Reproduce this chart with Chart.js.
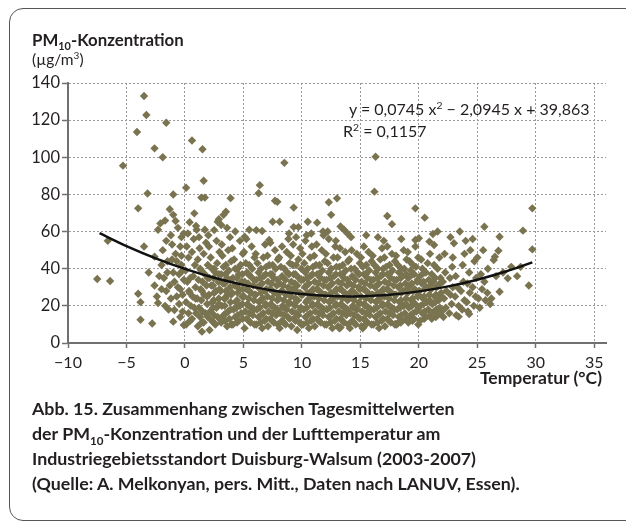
<!DOCTYPE html>
<html>
<head>
<meta charset="utf-8">
<script src="https://cdn.jsdelivr.net/npm/chart.js@4.4.1/dist/chart.umd.min.js"></script>
<style>
    body { margin: 0; width: 626px; height: 526px; overflow: hidden; background: #fff; font-family: Lato, "Open Sans", sans-serif; color: #231f20; }
    .frame { position: absolute; left: 9px; top: 8px; width: 650px; height: 513px; border: 1.5px solid #555; border-radius: 14px; box-sizing: border-box; }
    #chart { position: absolute; left: 0; top: 0; }
    .label { position: absolute; white-space: nowrap; }
    .ytitle { left: 32px; top: 29px; font-size: 16.8px; font-weight: bold; }
    .yunit { left: 32px; top: 50px; font-size: 15.5px; }
    .eq { left: 349px; top: 99px; font-size: 16px; }
    .r2 { left: 343px; top: 121px; font-size: 16px; }
    .xtitle { right: 24px; top: 367px; font-size: 17.5px; font-weight: bold; }
    .caption { left: 32px; top: 396px; font-size: 17.8px; font-weight: bold; line-height: 25px; }
    sub, sup { font-size: 65%; line-height: 0; }
</style>
</head>
<body>
<div class="frame"></div>
<canvas id="chart" width="626" height="526"></canvas>
<div class="label ytitle">PM<sub>10</sub>-Konzentration</div>
<div class="label yunit">(µg/m<sup>3</sup>)</div>
<div class="label eq">y = 0,0745 x<sup>2</sup> − 2,0945 x + 39,863</div>
<div class="label r2">R<sup>2</sup> = 0,1157</div>
<div class="label xtitle">Temperatur (°C)</div>
<div class="label caption">Abb. 15. Zusammenhang zwischen Tagesmittelwerten<br>der PM<sub>10</sub>-Konzentration und der Lufttemperatur am<br>Industriegebietsstandort Duisburg-Walsum (2003-2007)<br>(Quelle: A. Melkonyan, pers. Mitt., Daten nach LANUV, Essen).</div>

<script>
// axis ticks
const tempTicks = [-10, -5, 0, 5, 10, 15, 20, 25, 30, 35];
const pmTicks = [0, 20, 40, 60, 80, 100, 120, 140];

// daily means [temperature °C, PM10 µg/m³]
const frostDays = [
    [-7.5,34.5],[-6.4,33.4],[-6.6,55],[-5.3,95.5],[-4.1,113.6],[-3.5,133],[-3.3,122.8],[-2.6,104.8],[-1.9,100],[-1.6,118.6],
    [-4.0,72.5],[-3.2,80.5],[-3.5,52],[-4.0,26.5],[-3.8,22],[-3.8,12.5],[-2.8,10.5],[-3.1,38],[-2.6,46.5],[-2.6,31],
    [-2.3,21.5],[-2.3,61],[-2.1,64.4],[-1.7,65.9],[-1.3,72],[-1.0,69],[-0.8,65.7],[-1.0,80],[-0.3,57],[-0.1,59],
    [-2.0,42],[-1.8,35],[-1.5,44],[-1.6,28],[-1.4,18],[-1.2,24],[-1.0,38],[-0.9,17.8],[-0.8,48],[-0.6,30],
    [-0.5,21],[-0.4,52],[-0.3,42],[-0.2,26],[-0.2,16.9],[-0.1,34],[-1.9,50],[-1.1,53],[-1.0,11.5],[-0.1,9.7],
    [-2.4,25],[-1.7,20],[-0.7,44],[-1.3,31],[-0.5,37],[-2.2,36],[-1.2,58],[-0.6,62],[-1.6,55],[-0.3,47],
    [-0.4,14],[-0.7,25],[-1.1,45],[-0.2,39],[-1.5,38],[-0.9,33],[-0.4,29],[-2.0,29]
];
const coolDays = [
    [0.1,10],[0.3,16],[0.1,22],[0.35,28],[0.2,33],[0.05,39],[0.3,46],[0.15,52],[0.25,59],
    [0.6,13],[0.8,19],[0.65,25],[0.9,30],[0.7,36],[0.85,42],[0.6,49],[0.75,56],[0.95,63],
    [1.1,9],[1.3,14],[1.2,19],[1.05,24],[1.35,29],[1.15,34],[1.3,40],[1.1,45],[1.25,51],[1.2,57],
    [1.6,11],[1.75,16],[1.9,21],[1.65,26],[1.85,31],[1.7,37],[1.95,42],[1.6,48],[1.8,54],[1.7,61],
    [2.1,7],[2.3,12],[2.15,17],[2.35,22],[2.05,26],[2.25,31],[2.1,35],[2.3,40],[2.2,46],[2.05,52],
    [2.6,10],[2.8,14],[2.7,19],[2.9,24],[2.65,28],[2.85,33],[2.6,38],[2.75,43],[2.95,49],[2.7,55],
    [3.1,11],[3.3,15],[3.15,20],[3.35,24],[3.05,28],[3.25,32],[3.1,37],[3.3,41],[3.2,47],[3.15,53],
    [3.6,9],[3.8,13],[3.7,17],[3.9,22],[3.65,26],[3.85,30],[3.6,35],[3.75,39],[3.95,44],[3.7,50],[3.85,57],
    [4.1,10],[4.3,14],[4.15,18],[4.35,22],[4.05,27],[4.25,31],[4.1,35],[4.3,40],[4.2,45],[4.05,51],
    [4.6,12],[4.8,16],[4.7,20],[4.9,25],[4.65,29],[4.85,33],[4.6,37],[4.75,42],[4.95,48],[4.7,55],
    [0.1,83.6],[0.6,109],[1.5,104.3],[1.6,87.4],[1.4,78.3],[1.7,78.3],[0.8,69.8],[3.9,78],[3.5,70.7],[3.3,69],
    [2.9,66.6],[2.5,60.8],[2.8,65.3],[3.1,63.5],[1.45,6.1],[4.3,60],[2.0,58],[1.0,61],[0.4,65],[3.6,62]
];
const mildDays = [
    [5.1,8],[5.3,13],[5.15,17],[5.35,21],[5.05,25],[5.25,29],[5.1,33],[5.3,38],[5.2,43],[5.05,49],[5.25,56],
    [5.6,11],[5.8,15],[5.7,19],[5.9,23],[5.65,27],[5.85,31],[5.6,36],[5.75,40],[5.95,46],[5.7,52],
    [6.1,10],[6.3,14],[6.15,18],[6.35,22],[6.05,26],[6.25,30],[6.1,34],[6.3,38],[6.2,43],[6.05,48],
    [6.6,8],[6.8,12],[6.7,16],[6.9,20],[6.65,24],[6.85,28],[6.6,32],[6.75,36],[6.95,41],[6.7,46],[6.85,53],
    [7.1,9],[7.3,13],[7.15,17],[7.35,21],[7.05,25],[7.25,29],[7.1,33],[7.3,37],[7.2,42],[7.05,47],[7.3,54],
    [7.6,11],[7.8,15],[7.7,19],[7.9,23],[7.65,27],[7.85,31],[7.6,35],[7.75,40],[7.95,45],[7.7,50],
    [8.1,8],[8.3,12],[8.15,16],[8.35,20],[8.05,24],[8.25,28],[8.1,32],[8.3,36],[8.2,41],[8.05,46],[8.3,52],
    [8.6,10],[8.8,14],[8.7,18],[8.9,22],[8.65,26],[8.85,30],[8.6,34],[8.75,38],[8.95,43],[8.7,49],[8.85,56],
    [9.1,9],[9.3,13],[9.15,17],[9.35,21],[9.05,25],[9.25,29],[9.1,33],[9.3,37],[9.2,42],[9.05,47],[9.25,53],
    [9.6,7],[9.8,11],[9.7,15],[9.9,19],[9.65,23],[9.85,27],[9.6,31],[9.75,35],[9.95,40],[9.7,45],[9.85,51],
    [6.4,85],[6.3,80.6],[7.7,76.6],[7.9,76],[7.5,65.3],[8.1,65.3],[9.3,72.9],[9.3,62.4],[9.7,62.4],[8.5,97],
    [6.1,60.8],[6.6,60.3],[5.1,57.2],[7.2,55.5],[5.5,61],[8.9,59],[9.5,57]
];
const warmDays = [
    [10.1,10],[10.3,14],[10.15,18],[10.35,22],[10.05,26],[10.25,30],[10.1,34],[10.3,38],[10.2,43],[10.05,48],[10.3,55],
    [10.6,8],[10.8,12],[10.7,16],[10.9,20],[10.65,24],[10.85,28],[10.6,32],[10.75,36],[10.95,41],[10.7,46],[10.85,52],
    [11.1,9],[11.3,13],[11.15,17],[11.35,21],[11.05,25],[11.25,29],[11.1,33],[11.3,37],[11.2,42],[11.05,47],[11.25,53],
    [11.6,11],[11.8,15],[11.7,19],[11.9,23],[11.65,27],[11.85,31],[11.6,35],[11.75,39],[11.95,44],[11.7,50],[11.85,58],
    [12.1,10],[12.3,14],[12.15,18],[12.35,22],[12.05,26],[12.25,30],[12.1,34],[12.3,38],[12.2,43],[12.05,48],[12.3,56],
    [12.6,8],[12.8,12],[12.7,16],[12.9,20],[12.65,24],[12.85,28],[12.6,32],[12.75,36],[12.95,41],[12.7,46],[12.85,52],
    [13.1,9],[13.3,13],[13.15,17],[13.35,21],[13.05,25],[13.25,29],[13.1,33],[13.3,37],[13.2,41],[13.05,46],[13.25,51],
    [13.6,11],[13.8,15],[13.7,19],[13.9,23],[13.65,27],[13.85,31],[13.6,35],[13.75,39],[13.95,44],[13.7,49],
    [14.1,8],[14.3,12],[14.15,16],[14.35,20],[14.05,24],[14.25,28],[14.1,32],[14.3,36],[14.2,40],[14.05,45],[14.25,50],
    [14.6,10],[14.8,14],[14.7,18],[14.9,22],[14.65,26],[14.85,30],[14.6,34],[14.75,38],[14.95,43],[14.7,48],
    [12.3,75.8],[13.0,77.9],[12.5,69],[10.5,65.3],[11.3,64.8],[11.8,60],[12.2,60],[10.8,59],[13.3,62.7],[13.6,61],
    [13.9,59],[14.2,57],[13.2,7.9],[13.3,8.3],[10.4,58],[12.9,55]
];
const summerDays = [
    [15.1,9],[15.3,13],[15.15,17],[15.35,21],[15.05,25],[15.25,29],[15.1,33],[15.3,37],[15.2,41],[15.05,46],[15.3,52],
    [15.6,11],[15.8,15],[15.7,19],[15.9,23],[15.65,27],[15.85,31],[15.6,35],[15.75,39],[15.95,44],[15.7,49],
    [16.1,10],[16.3,14],[16.15,18],[16.35,22],[16.05,26],[16.25,30],[16.1,34],[16.3,38],[16.2,42],[16.05,47],
    [16.6,8],[16.8,12],[16.7,16],[16.9,20],[16.65,24],[16.85,28],[16.6,32],[16.75,36],[16.95,40],[16.7,45],[16.85,51],
    [17.1,9],[17.3,13],[17.15,17],[17.35,21],[17.05,25],[17.25,29],[17.1,33],[17.3,37],[17.2,41],[17.05,46],[17.3,52],
    [17.6,11],[17.8,15],[17.7,19],[17.9,23],[17.65,27],[17.85,31],[17.6,35],[17.75,39],[17.95,44],[17.7,48],
    [18.1,10],[18.3,14],[18.15,18],[18.35,22],[18.05,26],[18.25,30],[18.1,34],[18.3,38],[18.2,42],[18.05,47],
    [18.6,12],[18.8,16],[18.7,20],[18.9,24],[18.65,28],[18.85,32],[18.6,36],[18.75,40],[18.95,45],[18.7,50],
    [19.1,11],[19.3,15],[19.15,19],[19.35,23],[19.05,27],[19.25,31],[19.1,35],[19.3,39],[19.2,44],[19.05,49],
    [19.6,13],[19.8,17],[19.7,21],[19.9,25],[19.65,29],[19.85,33],[19.6,37],[19.75,41],[19.95,46],[19.7,52],
    [16.3,100.3],[16.2,81.5],[17.3,68.4],[17.7,64],[19.7,72.5],[15.2,7.9],[15.3,8.8],[18.2,10.6],[18.0,10.2],
    [19.7,55.5],[15.5,58],[16.5,57],[18.5,56],[17.0,55]
];
const hotDays = [
    [20.1,12],[20.3,16],[20.15,20],[20.35,24],[20.05,28],[20.25,32],[20.1,36],[20.3,40],[20.2,45],
    [20.6,14],[20.8,18],[20.7,22],[20.9,26],[20.65,30],[20.85,34],[20.6,38],[20.75,43],[20.95,48],
    [21.1,13],[21.3,17],[21.15,21],[21.35,25],[21.05,29],[21.25,33],[21.1,37],[21.3,42],
    [21.6,15],[21.8,19],[21.7,23],[21.9,27],[21.65,31],[21.85,35],[21.6,40],[21.75,46],
    [22.1,14],[22.3,19],[22.15,24],[22.35,28],[22.05,33],[22.25,38],
    [22.6,16],[22.8,21],[22.7,26],[22.9,30],[22.65,35],[22.85,41],
    [23.2,15],[23.4,20],[23.1,25],[23.3,30],[23.15,36],[23.7,18],[23.9,23],[23.6,28],[23.8,33],[23.75,42],
    [24.2,17],[24.1,22],[24.35,27],[24.15,32],[24.3,38],[24.7,20],[24.85,25],[24.6,30],[24.9,35],[24.75,44],
    [25.2,19],[25.1,24],[25.4,29],[25.3,37],[25.7,23],[25.85,27],[25.6,33],[25.9,40],
    [20.0,56.4],[20.5,67.5],[20.9,54.6],[21.2,58.7],[21.6,60],[21.3,52.8],[22.7,57],[23.5,60],[23.0,53.7],[24.0,55],
    [24.6,56],[25.6,62.6],[26.9,57.2],[28.9,60.5],[29.7,72.5],[29.7,50.4],[29.4,31],[26.8,49.7],[26.5,46.5],[26.4,44.7],
    [27.9,41],[27.6,34.8],[26.9,27.6],[26.2,24],[26.1,21],[28.4,36],[28.7,41],[24.3,15.6],[23.4,14.2],[22.2,48],
    [22.9,46],[23.9,48],[24.4,50],[25.0,46],[25.5,50],[27.2,38],[26.6,36]
];
// the packed middle of the cloud (about 10–42 µg/m³)
const coreDays = [
    [0.45,12],[0.5,20],[0.4,27],[0.45,35],[0.95,16],[0.9,24],
    [1.45,11],[1.5,17],[1.4,23],[1.45,28],[1.5,33],[1.4,39],[1.95,14],[1.9,25],[1.95,35],
    [2.45,11],[2.5,15],[2.4,19],[2.45,23],[2.5,27],[2.4,31],[2.45,35],[2.5,40],[2.95,13],[2.9,21],[2.95,29],[2.9,37],
    [3.45,12],[3.5,16],[3.4,20],[3.45,24],[3.5,28],[3.4,32],[3.45,37],[3.5,42],[3.95,10],[3.9,18],[3.95,26],[3.9,34],
    [4.45,11],[4.5,15],[4.4,19],[4.45,23],[4.5,27],[4.4,31],[4.45,35],[4.5,40],[4.95,13],[4.9,21],[4.95,29],[4.9,37],
    [5.45,12],[5.5,16],[5.4,20],[5.45,24],[5.5,28],[5.4,32],[5.45,37],[5.5,42],[5.95,10],[5.9,18],[5.95,26],[5.9,34],
    [6.45,11],[6.5,15],[6.4,19],[6.45,23],[6.5,27],[6.4,31],[6.45,35],[6.5,40],[6.95,13],[6.9,21],[6.95,29],[6.9,37],
    [7.45,12],[7.5,16],[7.4,20],[7.45,24],[7.5,28],[7.4,32],[7.45,37],[7.5,42],[7.95,10],[7.9,18],[7.95,26],[7.9,34],
    [8.45,11],[8.5,15],[8.4,19],[8.45,23],[8.5,27],[8.4,31],[8.45,35],[8.5,40],[8.95,13],[8.9,21],[8.95,29],[8.9,37],
    [9.45,12],[9.5,16],[9.4,20],[9.45,24],[9.5,28],[9.4,32],[9.45,37],[9.5,42],[9.95,10],[9.9,18],[9.95,26],[9.9,34],
    [10.45,11],[10.5,15],[10.4,19],[10.45,23],[10.5,27],[10.4,31],[10.45,35],[10.5,40],[10.95,13],[10.9,21],[10.95,29],[10.9,37],
    [11.45,12],[11.5,16],[11.4,20],[11.45,24],[11.5,28],[11.4,32],[11.45,37],[11.5,42],[11.95,10],[11.9,18],[11.95,26],[11.9,34],
    [12.45,11],[12.5,15],[12.4,19],[12.45,23],[12.5,27],[12.4,31],[12.45,35],[12.5,40],[12.95,13],[12.9,21],[12.95,29],[12.9,37],
    [13.45,12],[13.5,16],[13.4,20],[13.45,24],[13.5,28],[13.4,32],[13.45,37],[13.5,42],[13.95,10],[13.9,18],[13.95,26],[13.9,34],
    [14.45,11],[14.5,15],[14.4,19],[14.45,23],[14.5,27],[14.4,31],[14.45,35],[14.5,40],[14.95,13],[14.9,21],[14.95,29],[14.9,37],
    [15.45,12],[15.5,16],[15.4,20],[15.45,24],[15.5,28],[15.4,32],[15.45,37],[15.5,42],[15.95,10],[15.9,18],[15.95,26],[15.9,34],
    [16.45,11],[16.5,15],[16.4,19],[16.45,23],[16.5,27],[16.4,31],[16.45,35],[16.5,40],[16.95,13],[16.9,21],[16.95,29],[16.9,37],
    [17.45,12],[17.5,16],[17.4,20],[17.45,24],[17.5,28],[17.4,32],[17.45,37],[17.5,42],[17.95,10],[17.9,18],[17.95,26],[17.9,34],
    [18.45,11],[18.5,15],[18.4,19],[18.45,23],[18.5,27],[18.4,31],[18.45,35],[18.5,40],[18.95,13],[18.9,21],[18.95,29],[18.9,37],
    [19.45,12],[19.5,16],[19.4,20],[19.45,24],[19.5,28],[19.4,32],[19.45,37],[19.5,42],[19.95,10],[19.9,18],[19.95,26],[19.9,34],
    [20.45,13],[20.5,17],[20.4,21],[20.45,25],[20.5,29],[20.4,33],[20.45,38],[20.95,15],[20.9,23],[20.95,31],
    [21.45,14],[21.5,18],[21.4,22],[21.45,26],[21.5,30],[21.4,35],[21.95,17],[21.9,25],[21.95,33]
];

// fitted curve
const curveTemp = [-7.3, -5, -2.5, 0, 2.5, 5, 7.5, 10, 12.5, 14, 15, 17.5, 20, 22.5, 25, 27.5, 29.7];
const curvePm = [59.1, 52.2, 45.6, 39.9, 35.1, 31.3, 28.3, 26.4, 25.3, 25.1, 25.2, 26.0, 27.8, 30.5, 34.1, 38.6, 43.4];

const inkColor = '#231f20';
const axisColor = '#707070';
const fontFamily = 'Lato, "Open Sans", sans-serif';

const days = [...frostDays, ...coolDays, ...mildDays, ...warmDays, ...summerDays, ...hotDays, ...coreDays]
    .map(([t, pm]) => ({ x: t, y: pm }));
const curve = curveTemp.map((t, i) => ({ x: t, y: curvePm[i] }));

const ctx = document.getElementById('chart').getContext('2d');
new Chart(ctx, {
    type: 'scatter',
    data: {
        datasets: [
            {
                data: curve,
                showLine: true,
                borderColor: '#111',
                borderWidth: 2.5,
                pointRadius: 0,
                cubicInterpolationMode: 'monotone',
                order: 0
            },
            {
                data: days,
                pointStyle: 'rectRot',
                pointRadius: 4.2,
                pointBorderWidth: 0,
                backgroundColor: '#7a7350',
                order: 1
            }
        ]
    },
    options: {
        responsive: false,
        animation: false,
        layout: { padding: { top: 83, right: 20, left: 0, bottom: 0 } },
        plugins: { legend: { display: false }, tooltip: { enabled: false } },
        scales: {
            x: {
                type: 'linear',
                min: -10,
                max: 36,
                afterBuildTicks: scale => { scale.ticks = tempTicks.map(v => ({ value: v })); },
                afterFit: scale => { scale.height = 183; },
                grid: { color: '#999', lineWidth: 1, tickLength: 5, tickColor: axisColor, tickWidth: 1.5 },
                border: { color: axisColor, width: 2, dash: [2, 2] },
                ticks: {
                    padding: 5,
                    color: inkColor,
                    font: { family: fontFamily, size: 16 },
                    maxRotation: 0,
                    callback: v => String(v).replace('-', '\u2212')
                }
            },
            y: {
                min: 0,
                max: 140,
                afterBuildTicks: scale => { scale.ticks = pmTicks.map(v => ({ value: v })); },
                afterFit: scale => { scale.width = 68; },
                grid: { color: '#999', lineWidth: 1, tickLength: 6, tickColor: axisColor, tickWidth: 1.5 },
                border: { color: axisColor, width: 2, dash: [2, 2] },
                ticks: {
                    padding: 2,
                    color: inkColor,
                    font: { family: fontFamily, size: 16.5 }
                }
            }
        }
    }
});
</script>
</body>
</html>
